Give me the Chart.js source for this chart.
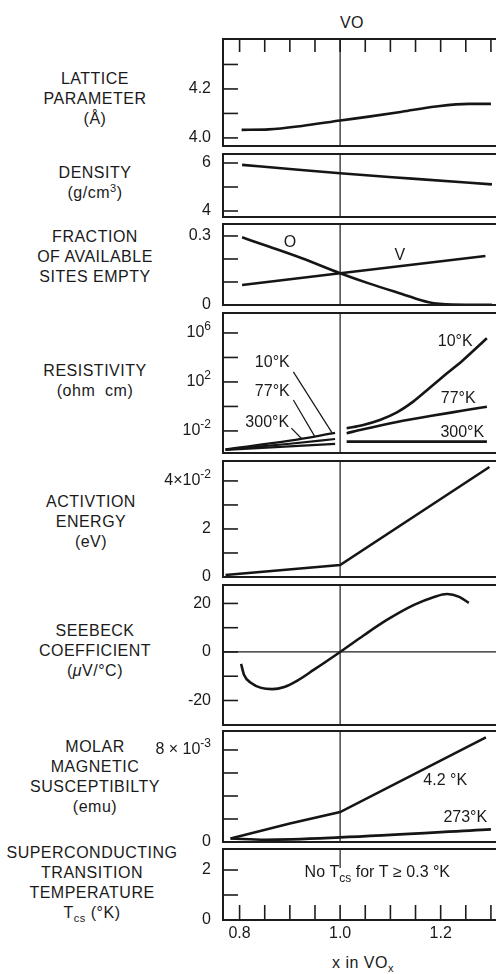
<!DOCTYPE html>
<html>
<head>
<meta charset="utf-8">
<script src="https://cdn.jsdelivr.net/npm/chart.js@4.4.1/dist/chart.umd.min.js"></script>
<style>
  html, body { margin: 0; padding: 0; background: #fff; }
  body { width: 496px; height: 974px; position: relative; overflow: hidden;
         font-family: "Liberation Sans", Arial, sans-serif; color: #1a1a1a; }
  canvas { position: absolute; left: 0; }
  .lab { position: absolute; left: 0; width: 190px; text-align: center;
         font-size: 16px; line-height: 20px; letter-spacing: 0.5px; }
  .txt { position: absolute; text-align: center; font-size: 16px; line-height: 20px; letter-spacing: 0.5px; }
  sup, sub { font-size: 11px; line-height: 0; }
</style>
</head>
<body>
<div class="txt" style="left:322px; width:60px; top:13px">VO</div>

<div class="lab" style="top:69px">LATTICE<br>PARAMETER<br>(Å)</div>
<div class="lab" style="top:163px">DENSITY<br>(g/cm<sup>3</sup>)</div>
<div class="lab" style="top:227px">FRACTION<br>OF AVAILABLE<br>SITES EMPTY</div>
<div class="lab" style="top:361px">RESISTIVITY<br>(ohm&nbsp;&nbsp;cm)</div>
<div class="lab" style="top:492px; width:182px">ACTIVTION<br>ENERGY<br>(eV)</div>
<div class="lab" style="top:621px">SEEBECK<br>COEFFICIENT<br>(<i>μ</i>V/°C)</div>
<div class="lab" style="top:737px">MOLAR<br>MAGNETIC<br>SUSCEPTIBILTY<br>(emu)</div>
<div class="lab" style="top:843px; width:184px">SUPERCONDUCTING<br>TRANSITION<br>TEMPERATURE<br>T<sub>cs</sub> (°K)</div>

<div class="txt" style="left:303px; width:120px; top:953px">x in VO<sub>x</sub></div>

<script>
// x axis (x in VOx)
const xTickVals = [0.8, 0.85, 0.9, 0.95, 1.0, 1.05, 1.1, 1.15, 1.2, 1.25, 1.3];
const xTickLabels = ["0.8", "", "", "", "1.0", "", "", "", "1.2", "", ""];

// lattice parameter (A)
const latticeX = [0.804, 0.858, 0.924, 1.0, 1.057, 1.123, 1.19, 1.256, 1.3];
const latticeY = [4.033, 4.035, 4.049, 4.071, 4.087, 4.107, 4.128, 4.139, 4.139];
const latticeTicks = [4.0, 4.1, 4.2, 4.3];
const latticeLabels = ["4.0", "", "4.2", ""];

// density (g/cm3)
const densityX = [0.805, 0.9, 1.0, 1.15, 1.302];
const densityY = [5.92, 5.75, 5.57, 5.34, 5.11];
const densityTicks = [4, 5, 6];
const densityLabels = ["4", "", "6"];

// fraction of available sites empty
const emptyOX = [0.805, 0.858, 0.924, 1.0, 1.057, 1.123, 1.176, 1.223, 1.302];
const emptyOY = [0.294, 0.254, 0.203, 0.138, 0.094, 0.048, 0.012, 0.002, 0.001];
const emptyVX = [0.805, 1.0, 1.289];
const emptyVY = [0.087, 0.138, 0.213];
const emptyTicks = [0, 0.1, 0.2, 0.3];
const emptyLabels = ["0", "", "", "0.3"];

// resistivity (ohm cm), left and right of VO
const res10LX = [0.772, 0.9, 0.99];
const res10LY = [3.2e-4, 1.6e-3, 6.9e-3];
const res77LX = [0.772, 0.9, 0.99];
const res77LY = [3.0e-4, 9e-4, 2.2e-3];
const res300LX = [0.772, 0.99];
const res300LY = [2.8e-4, 8.7e-4];
const res10RX = [1.013, 1.046, 1.079, 1.113, 1.146, 1.179, 1.212, 1.245, 1.292];
const res10RY = [0.0166, 0.031, 0.079, 0.33, 2.6, 35, 480, 6300, 3.7e5];
const res77RX = [1.013, 1.046, 1.113, 1.179, 1.245, 1.292];
const res77RY = [0.0065, 0.0138, 0.054, 0.166, 0.46, 0.95];
const res300RX = [1.013, 1.292];
const res300RY = [0.00135, 0.00135];
const resTicks = [1e-2, 1, 1e2, 1e4, 1e6];
const resLabels = ["10^-2", "", "10^2", "", "10^6"];

// activation energy (eV)
const actX = [0.772, 1.0, 1.297];
const actY = [0.0008, 0.005, 0.0458];
const actTicks = [0, 0.01, 0.02, 0.03, 0.04];
const actLabels = ["0", "", "2", "", "4×10^-2"];

// seebeck coefficient (uV/C)
const seebeckX = [0.803, 0.809, 0.823, 0.843, 0.865, 0.889, 0.915, 0.948, 1.0, 1.048, 1.093, 1.147, 1.187, 1.213, 1.237, 1.256];
const seebeckY = [-4.9, -9.5, -12.8, -14.8, -15.3, -14.4, -11.8, -7.3, 0, 7, 13.2, 19.4, 22.7, 23.9, 22.7, 20.2];
const seebeckTicks = [-20, -10, 0, 10, 20];
const seebeckLabels = ["-20", "", "0", "", "20"];

// molar magnetic susceptibility (emu)
const chi42X = [0.782, 0.9, 1.0, 1.29];
const chi42Y = [0.0003, 0.0016, 0.0026, 0.0091];
const chi273X = [0.782, 0.85, 1.0, 1.3];
const chi273Y = [0.0003, 0.0002, 0.0004, 0.0011];
const chiTicks = [0, 0.002, 0.004, 0.006, 0.008];
const chiLabels = ["0", "", "", "", "8 × 10^-3"];

// superconducting transition temperature (K)
const tcsTicks = [0, 1, 2];
const tcsLabels = ["0", "", "2"];

const FONT = '"Liberation Sans", Arial, sans-serif';
const PAD = 24;
const AXIS_W = 223;
const X_MIN = 0.767, X_MAX = 1.328;
const XAXIS_H = 26;
const TICK_PAD = 12;

function line(xs, ys, width, smooth) {
  return {
    data: xs.map((x, i) => ({x: x, y: ys[i]})),
    borderColor: '#151515',
    borderWidth: width || 2.6,
    pointRadius: 0,
    showLine: true,
    fill: false,
    tension: smooth ? 0.4 : 0,
    cubicInterpolationMode: smooth ? 'monotone' : 'default'
  };
}

// "10^6" -> [{t:'10'},{t:'6',sup:true}]
function toParts(label) {
  const bits = label.split('^');
  const parts = [{t: bits[0]}];
  if (bits[1]) parts.push({t: bits[1], sup: true});
  return parts;
}

function drawRich(ctx, parts, px, cy, size, align) {
  const big = size + 'px ' + FONT;
  const small = Math.round(size * 0.74) + 'px ' + FONT;
  let w = 0;
  parts.forEach(p => { ctx.font = (p.sub || p.sup) ? small : big; w += ctx.measureText(p.t).width; });
  let x = align === 'right' ? px - w : px - w / 2;
  ctx.textAlign = 'left';
  ctx.textBaseline = 'middle';
  parts.forEach(p => {
    ctx.font = (p.sub || p.sup) ? small : big;
    const dy = p.sub ? size * 0.35 : p.sup ? -size * 0.42 : 0;
    ctx.fillText(p.t, x, cy + dy);
    x += ctx.measureText(p.t).width;
  });
}

const framePlugin = {
  id: 'frame',
  afterDatasetsDraw(chart, args, opts) {
    const {ctx, chartArea: a} = chart;
    const x = chart.scales.x, y = chart.scales.y;
    ctx.save();
    ctx.strokeStyle = '#1c1c1c';

    // line at VO
    ctx.lineWidth = 1.2;
    const x1 = x.getPixelForValue(1.0);
    const vEnd = opts.vlineTo !== undefined ? y.getPixelForValue(opts.vlineTo) : a.bottom;
    ctx.beginPath(); ctx.moveTo(x1, a.top); ctx.lineTo(x1, vEnd); ctx.stroke();
    if (opts.zeroLine) {
      const y0 = y.getPixelForValue(0);
      ctx.beginPath(); ctx.moveTo(a.left, y0); ctx.lineTo(a.right, y0); ctx.stroke();
    }

    // inward ticks
    ctx.lineWidth = 1.6;
    y.ticks.forEach(t => {
      const py = y.getPixelForValue(t.value);
      ctx.beginPath(); ctx.moveTo(a.left, py); ctx.lineTo(a.left + 15, py); ctx.stroke();
    });
    if (opts.topTicks) {
      xTickVals.forEach(v => {
        const px = x.getPixelForValue(v);
        ctx.beginPath(); ctx.moveTo(px, a.top); ctx.lineTo(px, a.top + 13); ctx.stroke();
      });
    }
    if (opts.bottomTicks) {
      xTickVals.forEach(v => {
        const px = x.getPixelForValue(v);
        ctx.beginPath(); ctx.moveTo(px, a.bottom); ctx.lineTo(px, a.bottom - 15); ctx.stroke();
      });
    }

    ctx.lineWidth = 2;
    ctx.strokeRect(a.left, a.top, a.right - a.left, a.bottom - a.top);

    ctx.fillStyle = '#1a1a1a';
    // tick labels with exponents
    (opts.labels || []).forEach((lab, i) => {
      if (lab.indexOf('^') < 0) return;
      drawRich(ctx, toParts(lab), a.left - TICK_PAD, y.getPixelForValue(opts.ticks[i]), 16, 'right');
    });
    (opts.notes || []).forEach(n => {
      drawRich(ctx, n.parts || [{t: n.text}], x.getPixelForValue(n.x), y.getPixelForValue(n.y), 16);
    });
    ctx.restore();
  }
};

function makePanel(cfg) {
  const c = document.createElement('canvas');
  const h = cfg.bottom - cfg.top + PAD + (cfg.xAxis ? XAXIS_H : PAD);
  c.width = 510;
  c.height = h;
  c.style.top = (cfg.top - PAD) + 'px';
  c.style.width = '510px';
  c.style.height = h + 'px';
  document.body.appendChild(c);

  new Chart(c, {
    type: 'scatter',
    data: { datasets: cfg.datasets },
    options: {
      responsive: false,
      animation: false,
      layout: { padding: { top: PAD, bottom: cfg.xAxis ? 0 : PAD, left: 0, right: 5 } },
      plugins: {
        legend: { display: false },
        tooltip: { enabled: false },
        frame: { notes: cfg.notes, topTicks: cfg.topTicks, bottomTicks: cfg.xAxis,
                 zeroLine: cfg.zeroLine, vlineTo: cfg.vlineTo,
                 labels: cfg.labels, ticks: cfg.ticks }
      },
      scales: {
        x: {
          type: 'linear',
          min: X_MIN,
          max: X_MAX,
          bounds: 'data',
          display: !!cfg.xAxis,
          grid: { display: false, drawTicks: false },
          border: { display: false },
          afterBuildTicks: axis => { axis.ticks = xTickVals.map(v => ({value: v})); },
          afterFit: axis => { axis.height = cfg.xAxis ? XAXIS_H : 0; },
          ticks: {
            autoSkip: false,
            maxRotation: 0,
            padding: 4,
            color: '#1a1a1a',
            font: { family: FONT, size: 16 },
            callback: (v, i) => xTickLabels[i]
          }
        },
        y: {
          type: cfg.log ? 'logarithmic' : 'linear',
          min: cfg.min,
          max: cfg.max,
          bounds: 'data',
          grid: { display: false, drawTicks: false },
          border: { display: false },
          afterBuildTicks: axis => { axis.ticks = cfg.ticks.map(v => ({value: v})); },
          afterFit: axis => { axis.width = AXIS_W; },
          ticks: {
            autoSkip: false,
            padding: TICK_PAD,
            color: '#1a1a1a',
            font: { family: FONT, size: 16 },
            callback: (v, i) => cfg.labels[i].indexOf('^') < 0 ? cfg.labels[i] : ''
          }
        }
      }
    },
    plugins: [framePlugin]
  });
}

makePanel({
  top: 39, bottom: 146, min: 3.967, max: 4.404,
  ticks: latticeTicks, labels: latticeLabels, topTicks: true,
  datasets: [line(latticeX, latticeY, 2.6, true)]
});

makePanel({
  top: 154, bottom: 217, min: 3.75, max: 6.375,
  ticks: densityTicks, labels: densityLabels,
  datasets: [line(densityX, densityY, 2.6, true)]
});

makePanel({
  top: 224, bottom: 305, min: 0, max: 0.352,
  ticks: emptyTicks, labels: emptyLabels,
  datasets: [line(emptyOX, emptyOY, 2.6, true), line(emptyVX, emptyVY)],
  notes: [{text: 'O', x: 0.90, y: 0.27}, {text: 'V', x: 1.119, y: 0.213}]
});

makePanel({
  top: 313, bottom: 453, log: true, min: 1.58e-4, max: 4.27e7,
  ticks: resTicks, labels: resLabels,
  datasets: [
    line(res10LX, res10LY, 2.2, true), line(res77LX, res77LY, 2.2, true), line(res300LX, res300LY, 2.2),
    line(res10RX, res10RY, 2.6, true), line(res77RX, res77RY, 2.6, true), line(res300RX, res300RY),
    line([0.907, 0.984], [660, 0.0069], 1.2),
    line([0.907, 0.950], [3.4, 0.0033], 1.2),
    line([0.903, 0.924], [0.017, 0.0022], 1.2)
  ],
  notes: [
    {text: '10°K', x: 0.865, y: 3500}, {text: '77°K', x: 0.865, y: 15}, {text: '300°K', x: 0.855, y: 0.045},
    {text: '10°K', x: 1.229, y: 1.9e5}, {text: '77°K', x: 1.235, y: 4}, {text: '300°K', x: 1.243, y: 0.007}
  ]
});

makePanel({
  top: 461, bottom: 577, min: 0, max: 0.0483,
  ticks: actTicks, labels: actLabels,
  datasets: [line(actX, actY)]
});

makePanel({
  top: 585, bottom: 725, min: -30.1, max: 27.6,
  ticks: seebeckTicks, labels: seebeckLabels, zeroLine: true,
  datasets: [line(seebeckX, seebeckY, 2.6, true)]
});

makePanel({
  top: 731, bottom: 842, min: 0, max: 0.00965,
  ticks: chiTicks, labels: chiLabels,
  datasets: [line(chi42X, chi42Y), line(chi273X, chi273Y, 2.6, true)],
  notes: [{text: '4.2 °K', x: 1.209, y: 0.0053}, {text: '273°K', x: 1.249, y: 0.0021}]
});

makePanel({
  top: 849, bottom: 920, min: 0, max: 2.84,
  ticks: tcsTicks, labels: tcsLabels, xAxis: true, vlineTo: 2.08,
  datasets: [],
  notes: [{x: 1.074, y: 1.88, parts: [{t: 'No T'}, {t: 'cs', sub: true}, {t: ' for T ≥ 0.3 °K'}]}]
});
</script>
</body>
</html>
